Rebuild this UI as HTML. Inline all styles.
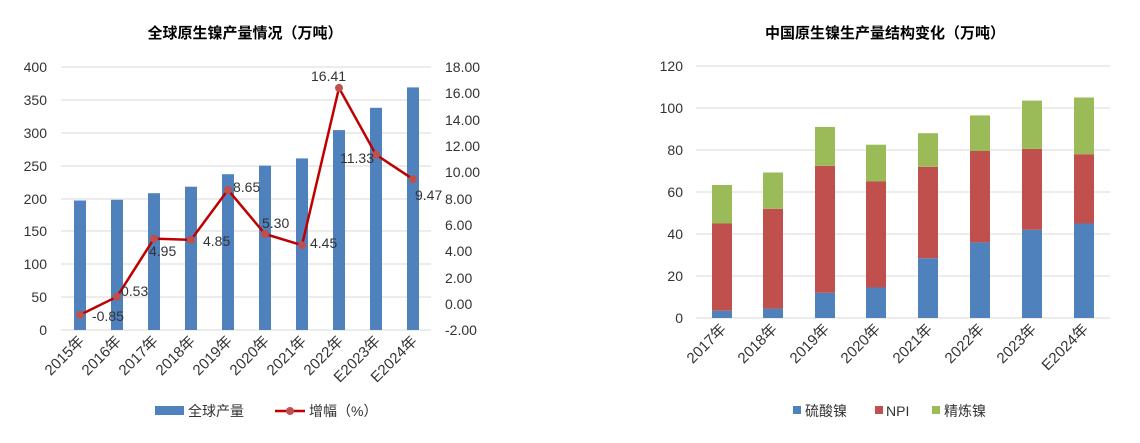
<!DOCTYPE html>
<html><head><meta charset="utf-8"><style>body{margin:0;background:#fff}svg{display:block}text{font-family:"Liberation Sans","Noto Sans CJK SC",sans-serif;fill:#333}</style></head><body>
<svg width="1140" height="443" viewBox="0 0 1140 443">
<text x="245" y="38" font-size="15" font-weight="bold" text-anchor="middle" style="fill:#000">全球原生镍产量情况（万吨）</text>
<text x="885" y="38" font-size="15" font-weight="bold" text-anchor="middle" style="fill:#000">中国原生镍生产量结构变化（万吨）</text>
<g stroke="#d9d9d9" stroke-width="1">
<line x1="61" x2="431" y1="67" y2="67"/><line x1="61" x2="431" y1="100" y2="100"/><line x1="61" x2="431" y1="133" y2="133"/><line x1="61" x2="431" y1="166" y2="166"/><line x1="61" x2="431" y1="199" y2="199"/><line x1="61" x2="431" y1="231" y2="231"/><line x1="61" x2="431" y1="264" y2="264"/><line x1="61" x2="431" y1="297" y2="297"/><line x1="61" x2="431" y1="330" y2="330"/>
<line x1="696" x2="1110" y1="66" y2="66"/><line x1="696" x2="1110" y1="108" y2="108"/><line x1="696" x2="1110" y1="150" y2="150"/><line x1="696" x2="1110" y1="192" y2="192"/><line x1="696" x2="1110" y1="234" y2="234"/><line x1="696" x2="1110" y1="276" y2="276"/><line x1="696" x2="1110" y1="318" y2="318"/>
</g>
<g font-size="14" text-anchor="end">
<text x="47" y="72">400</text><text x="47" y="105">350</text><text x="47" y="138">300</text><text x="47" y="171">250</text><text x="47" y="204">200</text><text x="47" y="236">150</text><text x="47" y="269">100</text><text x="47" y="302">50</text><text x="47" y="335">0</text>
<text x="683" y="71">120</text><text x="683" y="113">100</text><text x="683" y="155">80</text><text x="683" y="197">60</text><text x="683" y="239">40</text><text x="683" y="281">20</text><text x="683" y="323">0</text>
</g>
<g font-size="14">
<text x="445" y="72">18.00</text><text x="445" y="98">16.00</text><text x="445" y="125">14.00</text><text x="445" y="151">12.00</text><text x="445" y="177">10.00</text><text x="445" y="204">8.00</text><text x="445" y="230">6.00</text><text x="445" y="256">4.00</text><text x="445" y="283">2.00</text><text x="445" y="309">0.00</text><text x="445" y="335">-2.00</text>
</g>
<g fill="#4f81bd">
<rect x="74" y="200.5" width="12" height="129.5"/><rect x="111" y="199.8" width="12" height="130.2"/><rect x="148" y="193.2" width="12" height="136.8"/><rect x="185" y="186.7" width="12" height="143.3"/><rect x="222" y="174.2" width="12" height="155.8"/><rect x="259" y="165.6" width="12" height="164.4"/><rect x="296" y="158.4" width="12" height="171.6"/><rect x="333" y="130.1" width="12" height="199.9"/><rect x="370" y="107.8" width="12" height="222.2"/><rect x="407" y="87.4" width="12" height="242.6"/>
</g>
<polyline fill="none" stroke="#c00000" stroke-width="2.5" points="80,314.9 117,296.7 154,238.6 191,239.9 228,189.9 265,234 302,245.2 339,87.9 376,154.7 413,179.2"/>
<g fill="#c0504d"><circle cx="80" cy="314.9" r="4"/><circle cx="117" cy="296.7" r="4"/><circle cx="154" cy="238.6" r="4"/><circle cx="191" cy="239.9" r="4"/><circle cx="228" cy="189.9" r="4"/><circle cx="265" cy="234" r="4"/><circle cx="302" cy="245.2" r="4"/><circle cx="339" cy="87.9" r="4"/><circle cx="376" cy="154.7" r="4"/><circle cx="413" cy="179.2" r="4"/></g>
<g font-size="14" style="fill:#222">
<text x="92" y="321">-0.85</text><text x="121" y="296">0.53</text><text x="149" y="256">4.95</text><text x="203" y="246">4.85</text><text x="233" y="192">8.65</text><text x="262" y="228">5.30</text><text x="310" y="248">4.45</text><text x="311" y="81">16.41</text><text x="340" y="163">11.33</text><text x="415" y="200">9.47</text>
</g>
<g font-size="15" text-anchor="end">
<text transform="translate(85,342) rotate(-45)">2015年</text><text transform="translate(122,342) rotate(-45)">2016年</text><text transform="translate(159,342) rotate(-45)">2017年</text><text transform="translate(196,342) rotate(-45)">2018年</text><text transform="translate(233,342) rotate(-45)">2019年</text><text transform="translate(270,342) rotate(-45)">2020年</text><text transform="translate(307,342) rotate(-45)">2021年</text><text transform="translate(344,342) rotate(-45)">2022年</text><text transform="translate(381,342) rotate(-45)">E2023年</text><text transform="translate(418,342) rotate(-45)">E2024年</text>
<text transform="translate(727,330) rotate(-45)">2017年</text><text transform="translate(778,330) rotate(-45)">2018年</text><text transform="translate(830,330) rotate(-45)">2019年</text><text transform="translate(881,330) rotate(-45)">2020年</text><text transform="translate(933,330) rotate(-45)">2021年</text><text transform="translate(985,330) rotate(-45)">2022年</text><text transform="translate(1037,330) rotate(-45)">2023年</text><text transform="translate(1089,330) rotate(-45)">E2024年</text>
</g>
<g>
<rect x="712" y="310.7" width="20" height="7.3" fill="#4f81bd"/><rect x="712" y="223.5" width="20" height="87.2" fill="#c0504d"/><rect x="712" y="185" width="20" height="38.5" fill="#9bbb59"/>
<rect x="763" y="308.6" width="20" height="9.4" fill="#4f81bd"/><rect x="763" y="208.8" width="20" height="99.8" fill="#c0504d"/><rect x="763" y="172.5" width="20" height="36.3" fill="#9bbb59"/>
<rect x="815" y="292.8" width="20" height="25.2" fill="#4f81bd"/><rect x="815" y="165.8" width="20" height="127" fill="#c0504d"/><rect x="815" y="126.9" width="20" height="38.9" fill="#9bbb59"/>
<rect x="866" y="287.5" width="20" height="30.5" fill="#4f81bd"/><rect x="866" y="181.5" width="20" height="106" fill="#c0504d"/><rect x="866" y="144.7" width="20" height="36.8" fill="#9bbb59"/>
<rect x="918" y="258.2" width="20" height="59.8" fill="#4f81bd"/><rect x="918" y="166.8" width="20" height="91.4" fill="#c0504d"/><rect x="918" y="133.2" width="20" height="33.6" fill="#9bbb59"/>
<rect x="970" y="242.4" width="20" height="75.6" fill="#4f81bd"/><rect x="970" y="151" width="20" height="91.4" fill="#c0504d"/><rect x="970" y="115.4" width="20" height="35.6" fill="#9bbb59"/>
<rect x="1022" y="229.8" width="20" height="88.2" fill="#4f81bd"/><rect x="1022" y="148.9" width="20" height="80.9" fill="#c0504d"/><rect x="1022" y="100.6" width="20" height="48.3" fill="#9bbb59"/>
<rect x="1074" y="223.5" width="20" height="94.5" fill="#4f81bd"/><rect x="1074" y="154.2" width="20" height="69.3" fill="#c0504d"/><rect x="1074" y="97.5" width="20" height="56.7" fill="#9bbb59"/>
</g>
<g font-size="14">
<rect x="155" y="406" width="29" height="9" fill="#4f81bd"/><text x="188" y="416">全球产量</text>
<line x1="275" x2="305" y1="411" y2="411" stroke="#c00000" stroke-width="2.5"/><circle cx="290" cy="411" r="4" fill="#c0504d"/><text x="309" y="416">增幅（%）</text>
<rect x="793" y="406" width="8" height="8" fill="#4f81bd"/><text x="805" y="416">硫酸镍</text>
<rect x="875" y="406" width="8" height="8" fill="#c0504d"/><text x="886" y="416">NPI</text>
<rect x="932" y="406" width="8" height="8" fill="#9bbb59"/><text x="944" y="416">精炼镍</text>
</g>
</svg>
</body></html>
